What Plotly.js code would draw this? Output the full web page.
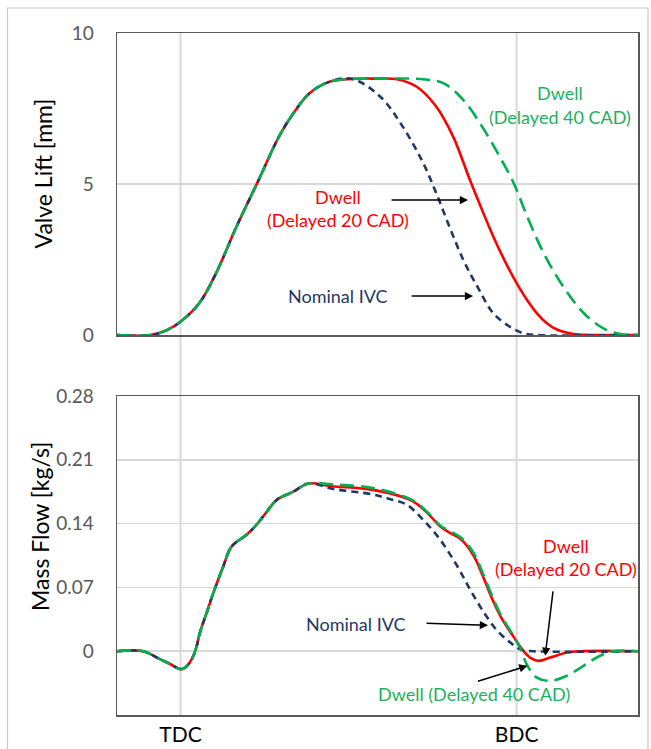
<!DOCTYPE html>
<html>
<head>
<meta charset="utf-8">
<script src="https://cdn.plot.ly/plotly-3.0.1.min.js"></script>
<style>html,body{margin:0;padding:0;background:#fff;}#chart{width:651px;height:749px;}</style>
</head>
<body>
<div id="chart"></div>
<script>
// ---------- Data (crank angle in degrees; TDC = 360, BDC = 540) ----------
var tickVals = [360, 540];
var tickText = ['TDC', 'BDC'];

// Valve lift [mm]
var liftNomX = [326, 344, 353, 360, 370, 379, 390, 401, 413, 420, 429, 440, 452, 467, 479, 490, 497, 504, 511.5, 519, 527.5, 536.5, 543.5, 551, 605];
var liftNomY = [0, 0, 0.17, 0.44, 1.05, 2.04, 3.59, 5.02, 6.6, 7.3, 8.0, 8.39, 8.48, 7.89, 6.9, 5.69, 4.69, 3.59, 2.48, 1.6, 0.72, 0.27, 0.06, 0, 0];

var liftD20X = [326, 344, 353, 360, 370, 379, 390, 401, 413, 420, 429, 440, 452, 464, 476, 486.5, 497, 506, 515, 520.5, 525, 529.5, 535, 540, 545.5, 551, 556, 561.5, 570.5, 579.5, 605];
var liftD20Y = [0, 0, 0.17, 0.44, 1.05, 2.04, 3.59, 5.02, 6.6, 7.3, 8.0, 8.39, 8.48, 8.49, 8.47, 8.22, 7.56, 6.57, 5.13, 4.29, 3.62, 2.99, 2.29, 1.72, 1.17, 0.71, 0.40, 0.18, 0.03, 0, 0];

var liftD40X = [326, 344, 353, 360, 370, 379, 390, 401, 413, 420, 429, 440, 452, 470, 490, 501, 511.5, 522, 531, 538.5, 545.5, 554.5, 565, 576, 586.5, 595.5, 602.5, 605];
var liftD40Y = [0, 0, 0.17, 0.44, 1.05, 2.04, 3.59, 5.02, 6.6, 7.3, 8.0, 8.39, 8.48, 8.49, 8.47, 8.33, 7.78, 6.85, 5.9, 5.02, 3.95, 2.71, 1.6, 0.72, 0.22, 0.03, 0, 0];

// Mass flow [kg/s]
var flowNomX = [326, 340, 349, 354.4, 360.5, 363.6, 366.9, 368.7, 370.4, 374, 377.6, 382.9, 387.4, 395.5, 400.8, 406.2, 411.5, 420.4, 428.5, 442, 463, 472, 481, 490, 499, 508, 515, 522, 529, 536, 542, 549, 605];
var flowNomY = [0, 0, -0.0087, -0.014, -0.0197, -0.016, -0.005, 0.0058, 0.0204, 0.042, 0.064, 0.093, 0.115, 0.128, 0.139, 0.153, 0.166, 0.175, 0.184, 0.178, 0.172, 0.167, 0.161, 0.144, 0.1225, 0.094, 0.068, 0.044, 0.024, 0.0105, 0.002, 0, 0];

var flowD20X = [326, 340, 349, 354.4, 360.5, 363.6, 366.9, 368.7, 370.4, 374, 377.6, 382.9, 387.4, 395.5, 400.8, 406.2, 411.5, 420.4, 428.5, 441, 463, 484, 492, 499, 504, 510, 516.9, 522, 527, 532, 538.3, 543.7, 547.2, 551.7, 558, 566.9, 574, 605];
var flowD20Y = [0, 0, -0.0087, -0.014, -0.0197, -0.016, -0.005, 0.0058, 0.0204, 0.042, 0.064, 0.093, 0.115, 0.128, 0.139, 0.153, 0.166, 0.175, 0.184, 0.181, 0.177, 0.165, 0.152, 0.137, 0.130, 0.123, 0.105, 0.082, 0.057, 0.036, 0.016, 0, -0.007, -0.0106, -0.007, -0.0015, 0, 0];

var flowD40X = [326, 340, 349, 354.4, 360.5, 363.6, 366.9, 368.7, 370.4, 374, 377.6, 382.9, 387.4, 395.5, 400.8, 406.2, 411.5, 420.4, 428.5, 441, 463, 484, 492, 499, 504, 510, 516.9, 522, 527, 532, 538.3, 541.8, 545.8, 550.8, 558, 566.9, 575.8, 584.7, 592, 605];
var flowD40Y = [0, 0, -0.0087, -0.014, -0.0197, -0.016, -0.005, 0.0058, 0.0204, 0.042, 0.064, 0.093, 0.115, 0.128, 0.139, 0.153, 0.166, 0.175, 0.184, 0.183, 0.179, 0.166, 0.153, 0.138, 0.132, 0.125, 0.108, 0.085, 0.06, 0.038, 0.017, 0.004, -0.016, -0.029, -0.0325, -0.027, -0.016, -0.005, 0, 0];

// ---------- Styling ----------
var FONT = 'Lato, "Open Sans", "DejaVu Sans", sans-serif';
var NAVY = '#1F3864', RED = '#FF0000', GREEN = '#00B050', GREENTXT = '#1DB05E';
var W = 651, H = 749, L = 117, R = 13, T = 33, B = 34;
var PW = W - L - R, PH = H - T - B;
function px(x) { return (x - L) / PW; }
function py(y) { return (H - B - y) / PH; }

function tr(x, y, xa, ya, color, dash) {
  return {x: x, y: y, xaxis: xa, yaxis: ya, type: 'scatter', mode: 'lines',
    line: {color: color, width: 2.6, dash: dash, shape: 'spline', smoothing: 1.0},
    hoverinfo: 'skip'};
}

var data = [
  tr(liftD20X, liftD20Y, 'x', 'y', RED, 'solid'),
  tr(liftNomX, liftNomY, 'x', 'y', NAVY, '7px,5px'),
  tr(liftD40X, liftD40Y, 'x', 'y', GREEN, '14px,7px'),
  tr(flowD20X, flowD20Y, 'x2', 'y2', RED, 'solid'),
  tr(flowNomX, flowNomY, 'x2', 'y2', NAVY, '7px,5px'),
  tr(flowD40X, flowD40Y, 'x2', 'y2', GREEN, '14px,7px')
];

var axBase = {showline: true, mirror: true, linecolor: '#595959', linewidth: 1.5,
  zeroline: false, ticks: '', fixedrange: true};

function txt(text, x, y, color) {
  return {text: text, xref: 'paper', yref: 'paper', x: px(x), y: py(y),
    xanchor: 'center', yanchor: 'middle', showarrow: false,
    font: {family: FONT, size: 18, color: color}};
}
function arr(xa, ya, x, y, ax, ay) {
  return {text: '', xref: xa, yref: ya, x: x, y: y, ax: ax, ay: ay,
    showarrow: true, arrowhead: 2, arrowsize: 1.1, arrowwidth: 1.5,
    arrowcolor: '#000', standoff: 0};
}

var annotations = [
  // Axis titles
  {text: 'Valve Lift [mm]', xref: 'paper', yref: 'paper', x: px(42.5), y: py(174), textangle: -90,
   showarrow: false, xanchor: 'center', yanchor: 'middle', font: {family: FONT, size: 23, color: '#000'}},
  {text: 'Mass Flow [kg/s]', xref: 'paper', yref: 'paper', x: px(40), y: py(527), textangle: -90,
   showarrow: false, xanchor: 'center', yanchor: 'middle', font: {family: FONT, size: 23, color: '#000'}},
  // Top chart labels
  txt('Dwell', 560, 93, GREENTXT),
  txt('(Delayed 40 CAD)', 560, 117, GREENTXT),
  txt('Dwell', 338, 197, RED),
  txt('(Delayed 20 CAD)', 338, 220, RED),
  txt('Nominal IVC', 338, 296, NAVY),
  // Bottom chart labels
  txt('Nominal IVC', 356, 624, NAVY),
  txt('Dwell', 566, 546, RED),
  txt('(Delayed 20 CAD)', 566, 569, RED),
  txt('Dwell (Delayed 40 CAD)', 474, 694, GREENTXT),
  // Arrows
  arr('x', 'y', 514, 4.47, -78, 0),
  arr('x', 'y', 516.7, 1.29, -63, 0),
  arr('x2', 'y2', 524.7, 0.0284, -63, -2),
  arr('x2', 'y2', 555.3, -0.0051, 8, -66),
  arr('x2', 'y2', 545.8, -0.016, -51, 16)
];

var shapes = [
  {type: 'line', xref: 'x', yref: 'paper', x0: 360, x1: 360, y0: 0, y1: 1, layer: 'below',
   line: {color: '#d9d9d9', width: 2}},
  {type: 'line', xref: 'x', yref: 'paper', x0: 540, x1: 540, y0: 0, y1: 1, layer: 'below',
   line: {color: '#d9d9d9', width: 2}},
  // outer frame
  {type: 'path', xref: 'paper', yref: 'paper', layer: 'below',
   path: 'M ' + px(7.5) + ' ' + py(760) + ' L ' + px(7.5) + ' ' + py(8) + ' L ' + px(648) + ' ' + py(8) + ' L ' + px(648) + ' ' + py(760),
   line: {color: '#c8c8c8', width: 1.2}}
];

var layout = {
  width: W, height: H,
  margin: {l: L, r: R, t: T, b: B},
  paper_bgcolor: '#fff', plot_bgcolor: 'rgba(0,0,0,0)',
  showlegend: false,
  font: {family: FONT},
  xaxis: Object.assign({}, axBase, {anchor: 'y', domain: [0, 1], range: [326, 605],
    showticklabels: false, showgrid: false}),
  yaxis: Object.assign({}, axBase, {anchor: 'x', domain: [py(335), 1], range: [0, 10],
    tickvals: [0, 5, 10], ticktext: ['0', '5', '10'], showgrid: true, gridcolor: '#d9d9d9', gridwidth: 1.5,
    tickfont: {family: FONT, size: 19, color: '#595959'}, ticklabelstandoff: 18}),
  xaxis2: Object.assign({}, axBase, {anchor: 'y2', domain: [0, 1], range: [326, 605],
    tickvals: tickVals, ticktext: tickText, showgrid: false,
    tickfont: {family: FONT, size: 21, color: '#000'}, ticklabelstandoff: 0}),
  yaxis2: Object.assign({}, axBase, {anchor: 'x2', domain: [0, py(396)], range: [-0.07, 0.28],
    tickvals: [0, 0.07, 0.14, 0.21, 0.28], ticktext: ['0', '0.07', '0.14', '0.21', '0.28'],
    showgrid: true, gridcolor: '#d9d9d9', gridwidth: 1.5,
    tickfont: {family: FONT, size: 19, color: '#595959'}, ticklabelstandoff: 18}),
  annotations: annotations,
  shapes: shapes
};

Plotly.newPlot('chart', data, layout, {staticPlot: true, displayModeBar: false});
</script>
</body>
</html>
